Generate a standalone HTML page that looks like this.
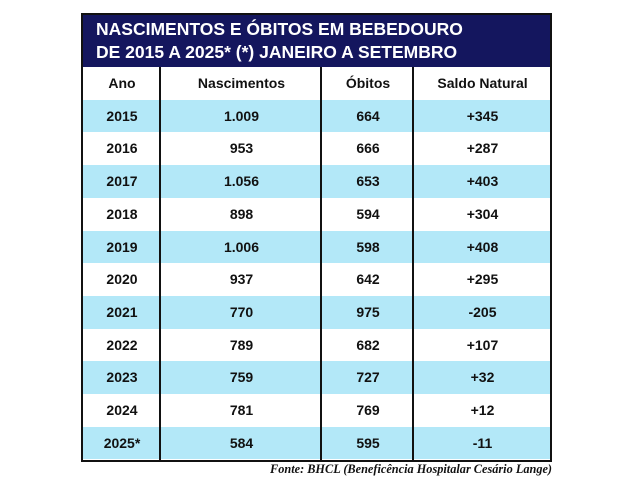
<!DOCTYPE html>
<html><head><meta charset="utf-8"><style>
body{margin:0;width:642px;height:474px;background:#fff;position:relative;overflow:hidden;font-family:"Liberation Sans",Arial,sans-serif;}
#t{position:absolute;left:81px;top:13px;width:471px;height:449px;border:2px solid #111;background:#fff;box-sizing:border-box;overflow:hidden;}
#h{position:absolute;left:0;top:0;width:468px;height:52px;background:#14165e;color:#fff;font-weight:bold;font-size:17.5px;line-height:23px;padding:3px 0 0 13px;box-sizing:border-box;}
.r{position:absolute;left:0;width:468px;height:32.8px;font-weight:bold;font-size:14px;line-height:33px;color:#111;}
.r.b{background:#b3e8f8;}
.r span{position:absolute;top:0;text-align:center;}
.c1{left:0;width:78px}.c2{left:78px;width:161px}.c3{left:239px;width:92px}.c4{left:331px;width:137px}
.v{position:absolute;top:52px;bottom:0;width:2px;background:#111;}
#f{position:absolute;left:270px;top:462px;font-family:"Liberation Serif",serif;font-style:italic;font-weight:bold;font-size:12.3px;color:#111;}
</style></head><body>
<div id="t">
<div id="h">NASCIMENTOS E ÓBITOS EM BEBEDOURO<br>DE 2015 A 2025* (*) JANEIRO A SETEMBRO</div>
<div class="r" style="top:52px"><span class="c1">Ano</span><span class="c2">Nascimentos</span><span class="c3">Óbitos</span><span class="c4">Saldo Natural</span></div>
<div class="r b" style="top:84.7px"><span class="c1">2015</span><span class="c2">1.009</span><span class="c3">664</span><span class="c4">+345</span></div>
<div class="r" style="top:117.4px"><span class="c1">2016</span><span class="c2">953</span><span class="c3">666</span><span class="c4">+287</span></div>
<div class="r b" style="top:150.1px"><span class="c1">2017</span><span class="c2">1.056</span><span class="c3">653</span><span class="c4">+403</span></div>
<div class="r" style="top:182.8px"><span class="c1">2018</span><span class="c2">898</span><span class="c3">594</span><span class="c4">+304</span></div>
<div class="r b" style="top:215.5px"><span class="c1">2019</span><span class="c2">1.006</span><span class="c3">598</span><span class="c4">+408</span></div>
<div class="r" style="top:248.2px"><span class="c1">2020</span><span class="c2">937</span><span class="c3">642</span><span class="c4">+295</span></div>
<div class="r b" style="top:280.9px"><span class="c1">2021</span><span class="c2">770</span><span class="c3">975</span><span class="c4">-205</span></div>
<div class="r" style="top:313.6px"><span class="c1">2022</span><span class="c2">789</span><span class="c3">682</span><span class="c4">+107</span></div>
<div class="r b" style="top:346.3px"><span class="c1">2023</span><span class="c2">759</span><span class="c3">727</span><span class="c4">+32</span></div>
<div class="r" style="top:379px"><span class="c1">2024</span><span class="c2">781</span><span class="c3">769</span><span class="c4">+12</span></div>
<div class="r b" style="top:411.7px"><span class="c1">2025*</span><span class="c2">584</span><span class="c3">595</span><span class="c4">-11</span></div>
<div class="v" style="left:76px"></div>
<div class="v" style="left:237px"></div>
<div class="v" style="left:329px"></div>
</div>
<div id="f">Fonte: BHCL (Beneficência Hospitalar Cesário Lange)</div>
</body></html>
